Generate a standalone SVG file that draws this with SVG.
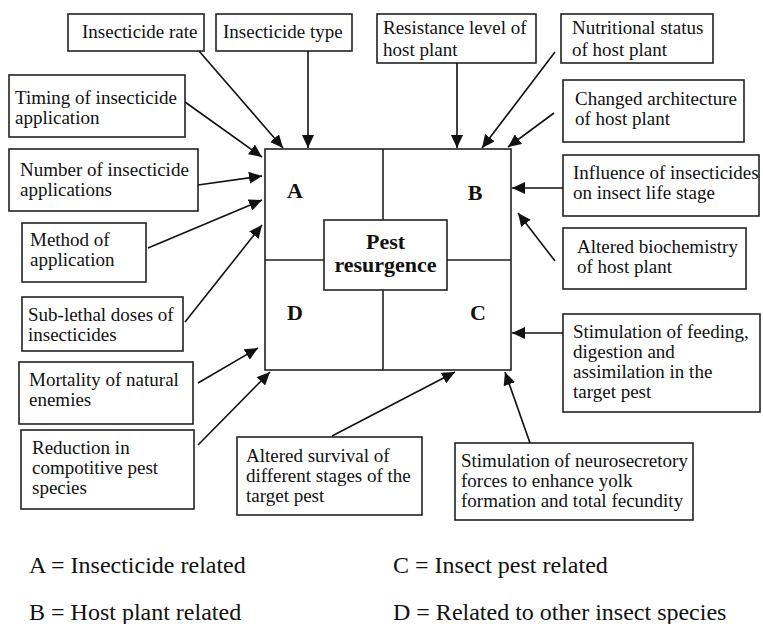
<svg xmlns="http://www.w3.org/2000/svg" width="763" height="624" viewBox="0 0 763 624">
<style>
.box{fill:#fff;stroke:#222;stroke-width:1.6}
.t{font-family:"Liberation Serif","Times New Roman",serif;font-size:19px;fill:#111}
.q{font-family:"Liberation Serif","Times New Roman",serif;font-size:22px;font-weight:bold;fill:#111}
.lg{font-family:"Liberation Serif","Times New Roman",serif;font-size:24px;fill:#111}
.c{stroke:#111;stroke-width:1.6;fill:none;marker-end:url(#ah)}
.grid{stroke:#222;stroke-width:1.6;fill:none}
</style>
<defs>
<marker id="ah" markerUnits="userSpaceOnUse" markerWidth="14" markerHeight="12" refX="13" refY="6" orient="auto">
<path d="M0,0 L13,6 L0,12 Z" fill="#111"/>
</marker>
</defs>
<rect width="763" height="624" fill="#fff"/>
<g id="center">
<rect class="box" x="265" y="149" width="246" height="221"/>
<path class="grid" d="M383,149 V220 M383,290 V370 M265,260 H324 M447,260 H511"/>
<rect class="box" x="324" y="220" width="123" height="70"/>
<text class="q" x="385.5" y="249" text-anchor="middle">Pest</text>
<text class="q" x="385.5" y="272" text-anchor="middle">resurgence</text>
<text class="q" x="295" y="198" text-anchor="middle">A</text>
<text class="q" x="475" y="200" text-anchor="middle">B</text>
<text class="q" x="478" y="320" text-anchor="middle">C</text>
<text class="q" x="295" y="320" text-anchor="middle">D</text>
</g>
<g id="n-rate"><rect class="box" x="68" y="14" width="136" height="37"/><text class="t" x="82" y="38">Insecticide rate</text></g>
<g id="n-type"><rect class="box" x="216" y="14" width="136" height="37"/><text class="t" x="223" y="38">Insecticide type</text></g>
<g id="n-resist"><rect class="box" x="377" y="14" width="159" height="49"/><text class="t" x="383" y="34">Resistance level of</text><text class="t" x="383" y="56">host plant</text></g>
<g id="n-nutri"><rect class="box" x="561" y="14" width="152" height="49"/><text class="t" x="572" y="34">Nutritional status</text><text class="t" x="572" y="56">of host plant</text></g>
<g id="n-arch"><rect class="box" x="563" y="80" width="181" height="62"/><text class="t" x="575" y="105">Changed architecture</text><text class="t" x="575" y="125">of host plant</text></g>
<g id="n-influence"><rect class="box" x="563" y="155" width="196" height="61"/><text class="t" x="573" y="179">Influence of insecticides</text><text class="t" x="573" y="199">on insect life stage</text></g>
<g id="n-biochem"><rect class="box" x="563" y="228" width="183" height="61"/><text class="t" x="577" y="253">Altered biochemistry</text><text class="t" x="577" y="273">of host plant</text></g>
<g id="n-feeding"><rect class="box" x="563" y="314" width="197" height="98"/><text class="t" x="573" y="338">Stimulation of feeding,</text><text class="t" x="573" y="358">digestion and</text><text class="t" x="573" y="378">assimilation in the</text><text class="t" x="573" y="398">target pest</text></g>
<g id="n-neuro"><rect class="box" x="455" y="443" width="238" height="77"/><text class="t" x="461" y="467">Stimulation of neurosecretory</text><text class="t" x="461" y="487">forces to enhance yolk</text><text class="t" x="461" y="507">formation and total fecundity</text></g>
<g id="n-survival"><rect class="box" x="237" y="437" width="185" height="78"/><text class="t" x="246" y="462">Altered survival of</text><text class="t" x="246" y="482">different stages of the</text><text class="t" x="246" y="502">target pest</text></g>
<g id="n-reduction"><rect class="box" x="21" y="430" width="173" height="79"/><text class="t" x="32" y="454">Reduction in</text><text class="t" x="32" y="474">compotitive pest</text><text class="t" x="32" y="494">species</text></g>
<g id="n-mortality"><rect class="box" x="19" y="362" width="174" height="62"/><text class="t" x="29" y="386">Mortality of natural</text><text class="t" x="29" y="406">enemies</text></g>
<g id="n-sublethal"><rect class="box" x="22" y="297" width="161" height="54"/><text class="t" x="28" y="321">Sub-lethal doses of</text><text class="t" x="28" y="341">insecticides</text></g>
<g id="n-method"><rect class="box" x="22" y="223" width="124" height="59"/><text class="t" x="30" y="246">Method of</text><text class="t" x="30" y="266">application</text></g>
<g id="n-number"><rect class="box" x="9" y="149" width="189" height="62"/><text class="t" x="20" y="176">Number of insecticide</text><text class="t" x="20" y="196">applications</text></g>
<g id="n-timing"><rect class="box" x="9" y="75" width="176" height="62"/><text class="t" x="15" y="104">Timing of insecticide</text><text class="t" x="15" y="124">application</text></g>
<g id="connectors">
<line class="c" x1="199" y1="51" x2="283" y2="148"/>
<line class="c" x1="308" y1="51" x2="308" y2="148"/>
<line class="c" x1="185" y1="102" x2="262" y2="157"/>
<line class="c" x1="198" y1="185" x2="262" y2="176"/>
<line class="c" x1="148" y1="248" x2="262" y2="200"/>
<line class="c" x1="185" y1="322" x2="262" y2="225"/>
<line class="c" x1="198" y1="383" x2="258" y2="348"/>
<line class="c" x1="198" y1="445" x2="270" y2="372"/>
<line class="c" x1="332" y1="436" x2="455" y2="372"/>
<line class="c" x1="530" y1="443" x2="505" y2="372"/>
<line class="c" x1="563" y1="333" x2="512" y2="333"/>
<line class="c" x1="555" y1="261" x2="518" y2="213"/>
<line class="c" x1="563" y1="188" x2="512" y2="188"/>
<line class="c" x1="554" y1="113" x2="508" y2="147"/>
<line class="c" x1="555" y1="52" x2="482" y2="148"/>
<line class="c" x1="457" y1="63" x2="457" y2="148"/>
</g>
<g id="legend">
<text class="lg" x="29" y="573">A = Insecticide related</text>
<text class="lg" x="29" y="620">B = Host plant related</text>
<text class="lg" x="393" y="573">C = Insect pest related</text>
<text class="lg" x="393" y="620">D = Related to other insect species</text>
</g>
</svg>
